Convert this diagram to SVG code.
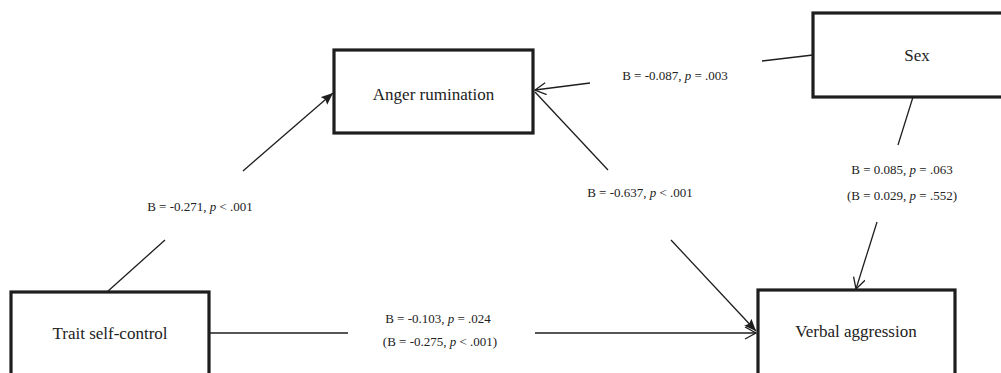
<svg xmlns="http://www.w3.org/2000/svg" width="1001" height="373" viewBox="0 0 1001 373">
<style>
.box{fill:#fff;stroke:#1e1e1e;stroke-width:3.2}
.nt{font-family:"Liberation Serif","Times New Roman",serif;font-size:17px;fill:#222;text-anchor:middle}
.lb{font-family:"Liberation Serif","Times New Roman",serif;font-size:13px;fill:#222;text-anchor:middle}
.ln{stroke:#1e1e1e;stroke-width:1.3;fill:none}
</style>
<defs>
<marker id="fill" markerUnits="userSpaceOnUse" markerWidth="14" markerHeight="12" refX="12" refY="5" orient="auto">
<path d="M0,0 L12,5 L0,10 L2,5 z" fill="#1e1e1e"/>
</marker>
<marker id="open" markerUnits="userSpaceOnUse" markerWidth="14" markerHeight="14" refX="12" refY="6" orient="auto">
<path d="M1,0 L12,6 L1,12" fill="none" stroke="#1e1e1e" stroke-width="1.3"/>
</marker>
</defs>
<rect width="1001" height="373" fill="#fff"/>
<g id="connectors">
<line class="ln" x1="107" y1="292" x2="165" y2="240"/>
<line class="ln" x1="243" y1="171" x2="333" y2="93" marker-end="url(#fill)"/>
<line class="ln" x1="535" y1="92" x2="608" y2="170"/>
<line class="ln" x1="671" y1="240" x2="756" y2="331" marker-end="url(#fill)"/>
<line class="ln" x1="813" y1="55" x2="762" y2="61"/>
<line class="ln" x1="590" y1="83" x2="535" y2="90" marker-end="url(#open)"/>
<line class="ln" x1="913" y1="97" x2="898" y2="145"/>
<line class="ln" x1="877" y1="222" x2="856" y2="289" marker-end="url(#open)"/>
<line class="ln" x1="209" y1="333" x2="348" y2="333"/>
<line class="ln" x1="535" y1="333" x2="756" y2="333" marker-end="url(#open)"/>
<text class="lb" x="200" y="211">B = -0.271, <tspan font-style="italic">p</tspan> &lt; .001</text>
<text class="lb" x="675" y="80">B = -0.087, <tspan font-style="italic">p</tspan> = .003</text>
<text class="lb" x="640" y="197">B = -0.637, <tspan font-style="italic">p</tspan> &lt; .001</text>
<text class="lb" x="902" y="174">B = 0.085, <tspan font-style="italic">p</tspan> = .063</text>
<text class="lb" x="902" y="200">(B = 0.029, <tspan font-style="italic">p</tspan> = .552)</text>
<text class="lb" x="438" y="323">B = -0.103, <tspan font-style="italic">p</tspan> = .024</text>
<text class="lb" x="440" y="346">(B = -0.275, <tspan font-style="italic">p</tspan> &lt; .001)</text>
</g>
<g id="anger">
<rect class="box" x="334" y="50" width="199" height="83"/>
<text class="nt" x="433.5" y="100">Anger rumination</text>
</g>
<g id="sex">
<rect class="box" x="813" y="13" width="200" height="84"/>
<text class="nt" x="917" y="61">Sex</text>
</g>
<g id="trait">
<rect class="box" x="11" y="292" width="198" height="100"/>
<text class="nt" x="110" y="339">Trait self-control</text>
</g>
<g id="verbal">
<rect class="box" x="758" y="290" width="197" height="100"/>
<text class="nt" x="856" y="337">Verbal aggression</text>
</g>
</svg>
